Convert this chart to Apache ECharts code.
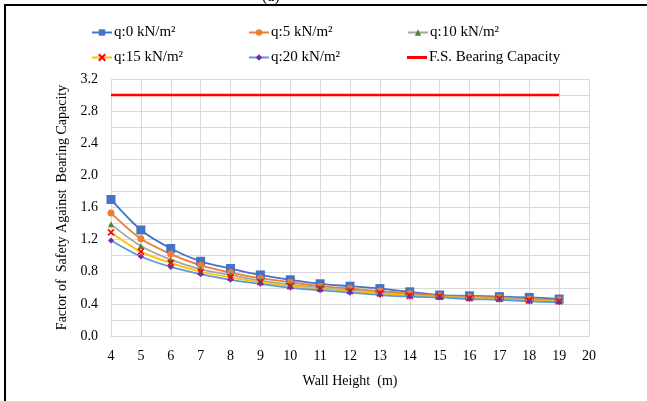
<!DOCTYPE html>
<html>
<head>
<meta charset="utf-8">
<script src="https://cdn.jsdelivr.net/npm/echarts@6/dist/echarts.min.js"></script>
<style>
  html, body { margin: 0; padding: 0; background: #fff; }
  #chart { width: 647px; height: 401px; }
</style>
</head>
<body>
<div id="chart"></div>
<script>
// wall height (m)
var heights = [4, 5, 6, 7, 8, 9, 10, 11, 12, 13, 14, 15, 16, 17, 18, 19];
// factor of safety for each surcharge q
var q0  = [1.70, 1.32, 1.09, 0.93, 0.84, 0.76, 0.70, 0.65, 0.62, 0.59, 0.55, 0.51, 0.50, 0.49, 0.48, 0.46];
var q5  = [1.53, 1.21, 1.02, 0.88, 0.79, 0.72, 0.67, 0.62, 0.59, 0.56, 0.53, 0.50, 0.49, 0.48, 0.46, 0.45];
var q10 = [1.39, 1.12, 0.95, 0.83, 0.76, 0.69, 0.64, 0.60, 0.57, 0.54, 0.51, 0.49, 0.48, 0.47, 0.45, 0.44];
var q15 = [1.29, 1.05, 0.91, 0.80, 0.73, 0.67, 0.62, 0.59, 0.56, 0.53, 0.50, 0.49, 0.47, 0.46, 0.44, 0.43];
var q20 = [1.19, 0.99, 0.86, 0.77, 0.70, 0.65, 0.60, 0.57, 0.54, 0.51, 0.49, 0.48, 0.46, 0.45, 0.43, 0.42];
var fsBearing = [3.0, 3.0];
var fsHeights = [4, 19];
var seriesNames = ['q:0 kN/m²', 'q:5 kN/m²', 'q:10 kN/m²', 'q:15 kN/m²', 'q:20 kN/m²', 'F.S. Bearing Capacity'];

var chart = echarts.init(document.getElementById('chart'));
var font = '"Liberation Serif", "DejaVu Serif", serif';
var crossPath = 'path://M0,0L10,10M10,0L0,10';

function pairs(xs, ys) {
  return xs.map(function (x, i) { return [x, ys[i]]; });
}

function curve(name, data, lineColor, symbol, size, markColor) {
  return {
    name: name,
    type: 'line',
    data: pairs(heights, data),
    smooth: 0.3,
    symbol: symbol,
    symbolSize: size,
    lineStyle: { color: lineColor, width: 1.8 },
    itemStyle: { color: markColor, borderColor: markColor, borderWidth: symbol == crossPath ? 1.6 : 0 },
    z: 3
  };
}

// legend placement, 3 columns x 2 rows
var legendPos = [[86, 20], [243, 20], [402, 20], [86, 45], [243, 45], [402, 45]];
var legends = seriesNames.map(function (n, i) {
  var lg = {
    data: [n],
    left: legendPos[i][0],
    top: legendPos[i][1],
    itemWidth: 20,
    itemHeight: 8,
    textStyle: { fontFamily: font, fontSize: 15, color: '#000', padding: [0, 0, 0, -3] }
  };
  if (i === 5) {
    lg.data = [{ name: n, icon: 'rect' }];
    lg.itemHeight = 3;
  }
  return lg;
});

var option = {
  animation: false,
  backgroundColor: '#fff',
  legend: legends,
  grid: { left: 111, right: 58, top: 79, bottom: 65 },
  xAxis: {
    type: 'value',
    min: 4,
    max: 20,
    interval: 1,
    name: 'Wall Height  (m)',
    nameLocation: 'middle',
    nameGap: 38,
    nameTextStyle: { fontFamily: font, fontSize: 14, color: '#000' },
    axisLine: { lineStyle: { color: '#d9d9d9' } },
    axisTick: { show: false },
    axisLabel: { fontFamily: font, fontSize: 14, color: '#000', margin: 13 },
    splitLine: { lineStyle: { color: '#d9d9d9' } }
  },
  yAxis: {
    type: 'value',
    min: 0,
    max: 3.2,
    interval: 0.2,
    name: 'Factor of  Safety Against  Bearing Capacity',
    nameLocation: 'middle',
    nameGap: 40,
    nameTextStyle: { fontFamily: font, fontSize: 14, color: '#000' },
    axisLine: { show: false },
    axisTick: { show: false },
    axisLabel: {
      fontFamily: font, fontSize: 14, color: '#000', margin: 13,
      formatter: function (v) {
        var k = Math.round(v * 10);
        return k % 4 === 0 ? (k / 10).toFixed(1) : '';
      }
    },
    splitLine: { lineStyle: { color: '#d9d9d9' } }
  },
  graphic: [
    { type: 'rect', shape: { x: 5, y: 5, width: 700, height: 500 }, style: { fill: 'none', stroke: '#000', lineWidth: 2 }, z: 100 },
    { type: 'text', left: 262, top: -11, style: { text: '(a)', font: '16px ' + font, fill: '#000' } }
  ],
  series: [
    curve(seriesNames[0], q0, '#4472C4', 'rect', 9, '#4472C4'),
    curve(seriesNames[1], q5, '#ED7D31', 'circle', 7, '#ED7D31'),
    curve(seriesNames[2], q10, '#A5A5A5', 'triangle', 6, '#548235'),
    curve(seriesNames[3], q15, '#FFC000', crossPath, 6, '#FF0000'),
    curve(seriesNames[4], q20, '#5B9BD5', 'diamond', 6, '#7030A0'),
    {
      name: seriesNames[5],
      type: 'line',
      data: pairs(fsHeights, fsBearing),
      symbol: 'none',
      lineStyle: { color: '#FF0000', width: 2.5 },
      itemStyle: { color: '#FF0000' },
      z: 2
    }
  ]
};
chart.setOption(option);
</script>
</body>
</html>
